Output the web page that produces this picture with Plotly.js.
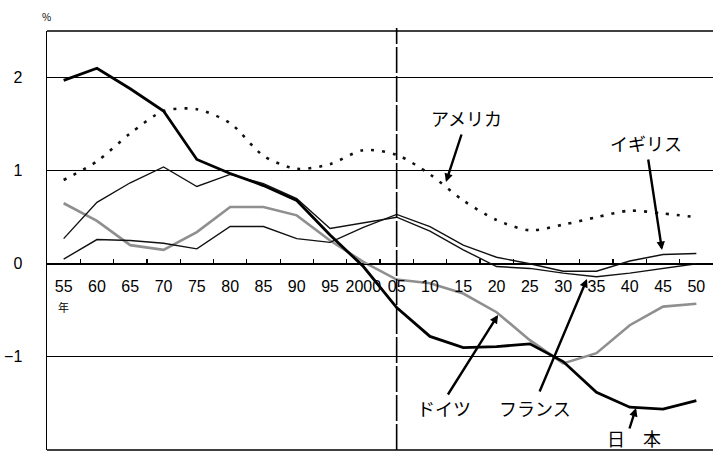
<!DOCTYPE html>
<html>
<head>
<meta charset="utf-8">
<script src="https://cdn.plot.ly/plotly-3.0.1.min.js"></script>
<style>html,body{margin:0;padding:0;background:#fff;}</style>
</head>
<body>
<div id="chart" style="width:713px;height:453px;"></div>
<script>
// Categories (years)
const years = ['55','60','65','70','75','80','85','90','95','2000','05','10','15','20','25','30','35','40','45','50'];
// Population growth rate (%)
const japan   = [1.97, 2.10, 1.88, 1.64, 1.12, 0.97, 0.84, 0.68, 0.31, -0.03, -0.47, -0.78, -0.90, -0.89, -0.86, -1.05, -1.38, -1.54, -1.56, -1.47];
const usa     = [0.90, 1.10, 1.40, 1.64, 1.66, 1.51, 1.16, 1.02, 1.07, 1.22, 1.17, 0.96, 0.68, 0.47, 0.36, 0.42, 0.50, 0.57, 0.54, 0.50];
const germany = [0.65, 0.46, 0.20, 0.15, 0.34, 0.61, 0.61, 0.52, 0.25, 0.02, -0.17, -0.21, -0.32, -0.52, -0.82, -1.07, -0.96, -0.66, -0.46, -0.43];
const france  = [0.27, 0.66, 0.87, 1.04, 0.83, 0.96, 0.86, 0.70, 0.38, 0.44, 0.50, 0.35, 0.15, -0.03, -0.05, -0.10, -0.14, -0.10, -0.05, 0.00];
const uk      = [0.05, 0.26, 0.25, 0.22, 0.16, 0.40, 0.40, 0.27, 0.23, 0.39, 0.53, 0.40, 0.20, 0.07, 0.00, -0.08, -0.08, 0.03, 0.10, 0.11];
const yTicks  = [-2, -1, 0, 1, 2];
const yTickText = ['−2', '−1', '0', '1', '2'];

const W = 713, H = 453, ML = 47, MR = 0, MT = 31, MB = 3;
const PW = W - ML - MR, PH = H - MT - MB;
const px = x => (x - ML) / PW;
const py = y => (H - MB - y) / PH;
const yMin = -2, yMax = 2.5;

const traces = [
  {name:'ドイツ', x: years, y: germany, mode:'lines', line:{color:'#8f8f8f', width:2.6}},
  {name:'イギリス', x: years, y: uk, mode:'lines', line:{color:'#111', width:1.4}},
  {name:'フランス', x: years, y: france, mode:'lines', line:{color:'#111', width:1.4}},
  {name:'アメリカ', x: years, y: usa, mode:'lines', line:{color:'#111', width:2.6, dash:'3px,8px', shape:'spline', smoothing:0.8}},
  {name:'日本', x: years, y: japan, mode:'lines', line:{color:'#000', width:2.8}}
];

const jp = '"Noto Sans CJK JP", sans-serif';
function label(text, cx, cy, size) {
  return {text, xref:'paper', yref:'paper', x:px(cx), y:py(cy), xanchor:'center', yanchor:'middle',
          showarrow:false, font:{family:jp, size:size||18, color:'#000'}};
}
function arrow(tailX, tailY, tipX, tipY) {
  return {text:'', xref:'paper', yref:'paper', x:px(tipX), y:py(tipY), ax:tailX - tipX, ay:tailY - tipY,
          showarrow:true, arrowhead:2, arrowsize:0.7, arrowwidth:2.4, arrowcolor:'#000'};
}

const idx05 = years.indexOf('05');

const layout = {
  width: W, height: H,
  margin:{l:ML, r:MR, t:MT, b:MB, pad:0},
  paper_bgcolor:'#fff', plot_bgcolor:'#fff',
  showlegend:false,
  font:{family:'"Liberation Sans", Arial, sans-serif', size:16, color:'#000'},
  xaxis:{
    type:'category', categoryorder:'array', categoryarray: years,
    range:[-0.5, years.length - 0.5],
    anchor:'free', position:(0 - yMin) / (yMax - yMin),
    showline:true, linecolor:'#000', linewidth:1.2,
    ticks:'inside', ticklen:5, tickwidth:1.2, tickcolor:'#000',
    tickson:'boundaries',
    showgrid:false, zeroline:false,
    tickmode:'array', tickvals: years, ticktext: years, tickangle:0,
    tickfont:{family:'"Liberation Sans", Arial, sans-serif', size:16, color:'#000'},
    ticklabelstandoff: 8
  },
  yaxis:{
    range:[yMin, yMax],
    tickmode:'array', tickvals: yTicks, ticktext: yTickText,
    showgrid:true, gridcolor:'#000', gridwidth:1.2,
    zeroline:false,
    showline:true, linecolor:'#000', linewidth:1.5,
    ticks:'', ticklabelstandoff: 20,
    tickfont:{family:'"Liberation Sans", Arial, sans-serif', size:16, color:'#000'}
  },
  shapes:[
    {type:'line', xref:'paper', yref:'paper', x0:0, x1:1, y0:1, y1:1, line:{color:'#000', width:1.5}},
    {type:'line', xref:'paper', yref:'paper', x0:0, x1:1, y0:0, y1:0, line:{color:'#000', width:1.5}},
    {type:'line', xref:'x', yref:'paper', x0:idx05, x1:idx05, y0:0, y1:py(28), line:{color:'#000', width:1.6, dash:'26px,3px'}}
  ],
  annotations:[
    {text:'%', xref:'paper', yref:'paper', x:px(46), y:py(17), xanchor:'center', yanchor:'middle', showarrow:false,
     font:{family:jp, size:10, color:'#000'}},
    {text:'年', xref:'paper', yref:'paper', x:px(63), y:py(307), xanchor:'center', yanchor:'middle', showarrow:false,
     font:{family:jp, size:11, color:'#000'}},
    label('アメリカ', 466, 118),
    label('イギリス', 646, 143),
    label('ドイツ', 444, 408),
    label('フランス', 535, 408),
    label('日\u3000本', 634, 438),
    arrow(462, 133, 446, 182),
    arrow(648, 158, 662, 250),
    arrow(447, 396, 498, 315),
    arrow(539, 393, 587, 279),
    arrow(629, 430, 636, 408)
  ]
};

Plotly.newPlot('chart', traces, layout, {displayModeBar:false, staticPlot:true});
</script>
</body>
</html>
